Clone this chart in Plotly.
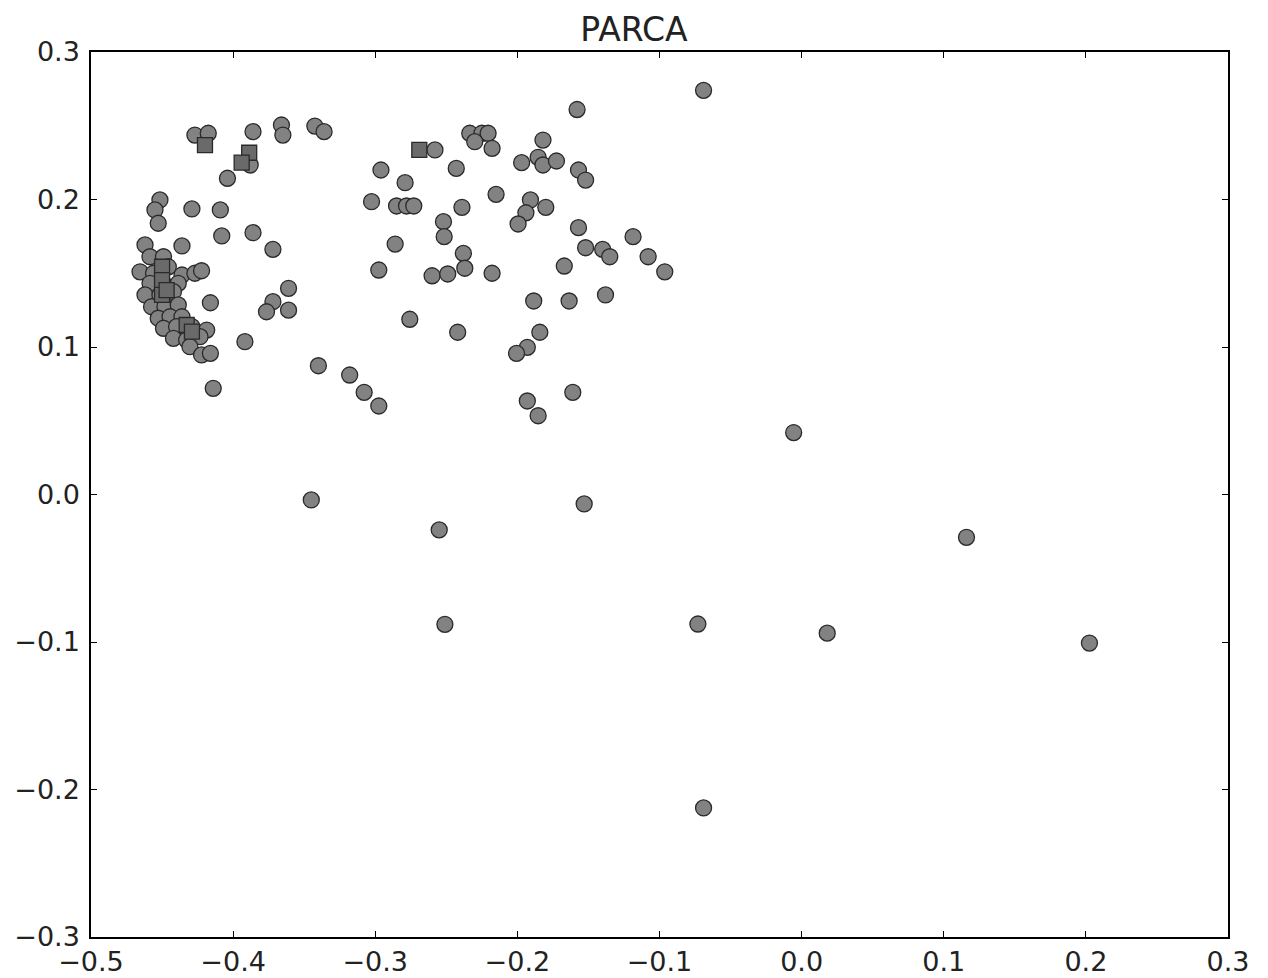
import plotly.graph_objects as go

# Circle markers
circle_x = [
    -0.069, -0.0056, 0.116, 0.2025, 0.018, -0.073, -0.069, -0.153, -0.255, -0.251, -0.345,
    -0.158, -0.3425, -0.336, -0.366, -0.365, -0.258,
    -0.2335, -0.225, -0.2206, -0.230, -0.2178,
    -0.182, -0.197, -0.1854, -0.182, -0.1725, -0.157, -0.152,
    -0.243, -0.296, -0.279, -0.3026, -0.285, -0.278, -0.2729,
    -0.215, -0.239, -0.252, -0.2515, -0.1908, -0.180, -0.194, -0.1995,
    -0.157, -0.152, -0.140, -0.135, -0.1186, -0.108, -0.0963, -0.167,
    -0.286, -0.2975, -0.260, -0.249, -0.238, -0.237, -0.2178,
    -0.361, -0.361, -0.1885, -0.1636, -0.138, -0.2757, -0.242, -0.1842,
    -0.193, -0.2006, -0.340, -0.318, -0.3078, -0.2975, -0.161, -0.193, -0.1854,
    -0.4269, -0.4175, -0.386, -0.388, -0.404,
    -0.4515, -0.455, -0.4527, -0.429, -0.409, -0.408, -0.386, -0.372,
    -0.372, -0.3765, -0.416, -0.3917, -0.414, -0.436,
    -0.462, -0.4585, -0.449, -0.4655, -0.456, -0.4456, -0.436, -0.4269, -0.4222,
    -0.4585, -0.449, -0.4386, -0.462, -0.4515, -0.442,
    -0.4574, -0.448, -0.4386, -0.4527, -0.4444, -0.436,
    -0.449, -0.4398, -0.429, -0.4186, -0.442, -0.4327, -0.4233,
    -0.4304, -0.4222, -0.416,
]
circle_y = [
    0.274, 0.042, -0.029, -0.1007, -0.094, -0.0878, -0.2125, -0.0064, -0.024, -0.088, -0.0037,
    0.261, 0.2498, 0.246, 0.2505, 0.2437, 0.2336,
    0.2449, 0.2449, 0.2449, 0.2392, 0.2347,
    0.2403, 0.225, 0.2286, 0.2234, 0.2261, 0.220, 0.2132,
    0.2211, 0.220, 0.2114, 0.1985, 0.1956, 0.1956, 0.1956,
    0.2035, 0.1947, 0.185, 0.1748, 0.1997, 0.1947, 0.191, 0.1834,
    0.1809, 0.1673, 0.1662, 0.1612, 0.1748, 0.1612, 0.151, 0.1549,
    0.1698, 0.1522, 0.1483, 0.1495, 0.1635, 0.1534, 0.150,
    0.1398, 0.125, 0.1312, 0.1312, 0.1353, 0.1188, 0.110, 0.110,
    0.0998, 0.0957, 0.0873, 0.081, 0.0693, 0.060, 0.0693, 0.0634, 0.0534,
    0.2437, 0.2449, 0.246, 0.2234, 0.2144,
    0.1997, 0.1929, 0.1839, 0.1936, 0.1929, 0.1753, 0.1775, 0.1662,
    0.1307, 0.1239, 0.130, 0.1036, 0.072, 0.1685,
    0.1692, 0.1612, 0.1612, 0.151, 0.150, 0.1544, 0.1488, 0.150, 0.1517,
    0.1432, 0.1432, 0.1432, 0.1353, 0.1353, 0.1375,
    0.1273, 0.1273, 0.1285, 0.1195, 0.1205, 0.1205,
    0.1127, 0.1138, 0.1138, 0.1115, 0.1059, 0.1047, 0.107,
    0.1002, 0.0946, 0.0957,
]

# Square markers
square_x = [-0.269, -0.4198, -0.3887, -0.394, -0.450, -0.450, -0.450, -0.4468, -0.4327, -0.429]
square_y = [0.2336, 0.2369, 0.2317, 0.225, 0.1544, 0.1454, 0.1353, 0.1386, 0.1149, 0.1104]

x_ticks = [-0.5, -0.4, -0.3, -0.2, -0.1, 0.0, 0.1, 0.2, 0.3]
x_tick_text = ["\u22120.5", "\u22120.4", "\u22120.3", "\u22120.2", "\u22120.1", "0.0", "0.1", "0.2", "0.3"]
y_ticks = [-0.3, -0.2, -0.1, 0.0, 0.1, 0.2, 0.3]
y_tick_text = ["\u22120.3", "\u22120.2", "\u22120.1", "0.0", "0.1", "0.2", "0.3"]

fig = go.Figure()
fig.add_trace(go.Scatter(
    x=circle_x, y=circle_y, mode="markers",
    marker=dict(symbol="circle", size=16, color="#828282",
                line=dict(color="#2a2a2a", width=1.3)),
    showlegend=False, cliponaxis=False,
))
fig.add_trace(go.Scatter(
    x=square_x, y=square_y, mode="markers",
    marker=dict(symbol="square", size=15, color="#6a6a6a",
                line=dict(color="#2a2a2a", width=1.3)),
    showlegend=False, cliponaxis=False,
))

axis_common = dict(
    showgrid=False, zeroline=False, showline=True, linecolor="black", linewidth=1.5,
    mirror="ticks", ticks="inside", ticklen=6, tickwidth=1, tickcolor="black",
    tickfont=dict(family="DejaVu Sans", size=27, color="#222222"),
    automargin=False,
)
fig.update_xaxes(range=[-0.5, 0.3], tickvals=x_ticks, ticktext=x_tick_text,
                 ticklabelstandoff=0, **axis_common)
fig.update_yaxes(range=[-0.3, 0.3], tickvals=y_ticks, ticktext=y_tick_text,
                 ticklabelstandoff=4, **axis_common)

fig.update_layout(
    width=1268, height=978,
    margin=dict(l=91, r=40, t=52, b=41),
    plot_bgcolor="white", paper_bgcolor="white",
    title=dict(text="PARCA", x=0.5, xanchor="center", y=1 - 29 / 978, yanchor="middle",
               font=dict(family="DejaVu Sans", size=33, color="#222222")),
)

fig.write_html("out.html")
